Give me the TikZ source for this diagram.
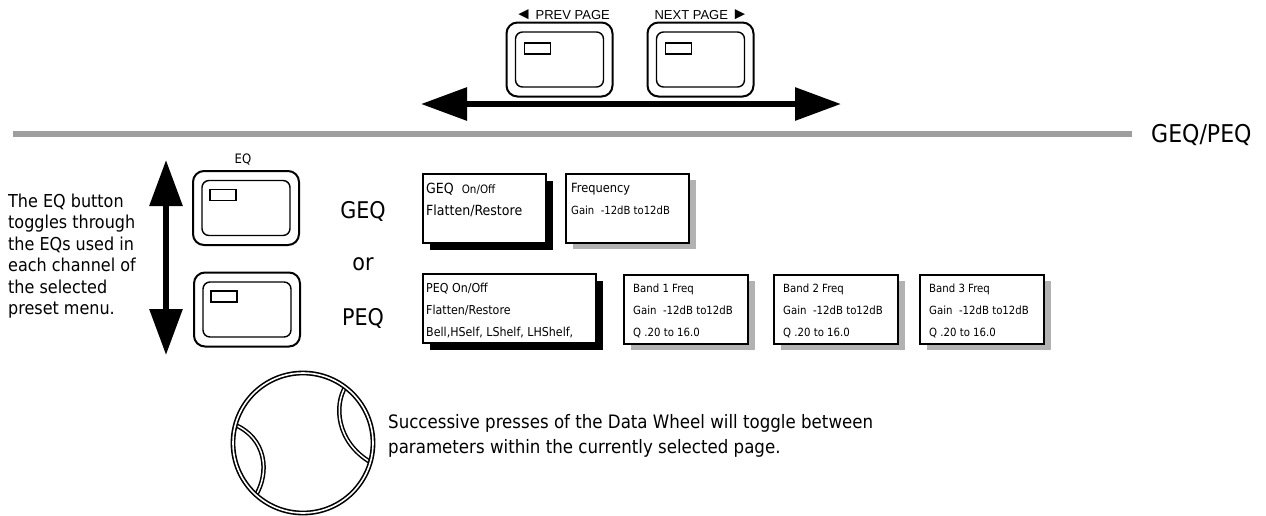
\documentclass[tikz,border=0pt]{standalone}
\usepackage{fontspec}
\setmainfont{DejaVu Sans Condensed}
\newfontfamily\labelfont{Liberation Sans}
\usetikzlibrary{positioning}
\usetikzlibrary{arrows.meta,shadows,backgrounds}
\newcommand\tri[1]{{\fontsize{17}{13}\selectfont #1}}

\begin{document}
\begin{tikzpicture}
    [
    x=1pt, y=-1pt,
    panel/.style={draw, line width=2pt, rounded corners=11pt, minimum width=106pt, minimum height=74pt, inner sep=0pt},
    panel inner/.style={draw, line width=1.4pt, rounded corners=7pt, minimum width=88pt, minimum height=55pt, inner sep=0pt},
    led/.style={draw, line width=1.2pt, minimum width=26pt, minimum height=11pt, inner sep=0pt},
    menu/.style={draw, line width=2pt, fill=white, anchor=north west, inner sep=0pt},
    dark shadow/.style={drop shadow={shadow xshift=7pt, shadow yshift=-7pt, fill=black, opacity=1}},
    light shadow/.style={drop shadow={shadow xshift=7pt, shadow yshift=-6pt, fill=black!30, opacity=1}},
    menu text/.style={anchor=north west, align=left, inner sep=0pt},
    big arrow/.style={line width=6pt, {Triangle[length=46pt, width=32pt]}-{Triangle[length=46pt, width=32pt]}},
    grip/.style={draw, line width=1.5pt, double=white, double distance=1.5pt},
    ]

    \useasboundingbox (0,0) rectangle (1266,515);

    \node[panel] (btn_prev) at (559.5,59.5) {};
    \node[panel inner] (btn_prev_in) at (btn_prev) {};
    \node[led] (btn_prev_led) at ([shift={(-22,-11)}]btn_prev) {};
    \node[font=\labelfont\fontsize{13}{13}\selectfont, above=-2pt of btn_prev, xshift=3pt] (lbl_prev) {\tri{◄} PREV PAGE};

    \node[panel] (btn_next) at (700.5,59.5) {};
    \node[panel inner] (btn_next_in) at (btn_next) {};
    \node[led] (btn_next_led) at ([shift={(-22,-11)}]btn_next) {};
    \node[font=\labelfont\fontsize{13}{13}\selectfont, above=-2pt of btn_next, xshift=1pt] (lbl_next) {NEXT PAGE \tri{►}};

    \coordinate (page_left) at (421,104);
    \coordinate (page_right) at (841,104);
    \draw[big arrow] (page_left) -- (page_right);

    \coordinate (rule_start) at (13,134);
    \coordinate (rule_end) at (1132,134);
    \draw[line width=6.5pt, black!38] (rule_start) -- (rule_end);
    \node[font=\fontsize{24.5}{24}\selectfont, anchor=west, inner sep=0pt] (lbl_mode) at (1151,135) {GEQ/PEQ};

    \node[panel] (btn_eq) at (246,208) {};
    \node[panel inner] (btn_eq_in) at (btn_eq) {};
    \node[led] (btn_eq_led) at ([shift={(-23,-13)}]btn_eq) {};
    \node[font=\fontsize{13}{13}\selectfont, above=1pt of btn_eq, xshift=-3pt] (lbl_eq) {EQ};

    \node[panel] (btn_eq_low) at (247,309.5) {};
    \node[panel inner] (btn_eq_low_in) at (btn_eq_low) {};
    \node[led] (btn_eq_low_led) at ([shift={(-23,-13)}]btn_eq_low) {};

    \coordinate (eq_top) at (166,160);
    \coordinate (eq_bottom) at (166,355);
    \draw[big arrow] (eq_top) -- (eq_bottom);

    \node[font=\fontsize{17.8}{21.4}\selectfont, align=left, anchor=west, inner sep=0pt] (txt_eq) at (8,256)
    {The EQ button\\toggles through\\the EQs used in\\each channel of\\the selected\\preset menu.};

    \node[font=\fontsize{23}{23}\selectfont] (lbl_geq) at (363,211) {GEQ};
    \node[font=\fontsize{23}{23}\selectfont] (lbl_or) at (363,264) {or};
    \node[font=\fontsize{23}{23}\selectfont] (lbl_peq) at (363,318) {PEQ};

    \node[menu, dark shadow, minimum width=123pt, minimum height=69pt] (box_geq) at (422,173) {};
    \node[menu text, font=\fontsize{14}{22}\selectfont] (box_geq_txt) at ([shift={(4,10)}]box_geq.north west)
    {GEQ\ \ {\fontsize{11.5}{22}\selectfont On/Off}\\Flatten/Restore};

    \node[menu, light shadow, minimum width=123pt, minimum height=69pt] (box_freq) at (565,173) {};
    \node[menu text, font=\fontsize{12.7}{22}\selectfont] (box_freq_txt) at ([shift={(6,10)}]box_freq.north west)
    {Frequency\\{\fontsize{11.2}{22}\selectfont Gain\ \ -12dB to12dB}};

    \node[menu, dark shadow, minimum width=173pt, minimum height=69pt] (box_peq) at (422,273) {};
    \node[menu text, font=\fontsize{12.3}{22}\selectfont] (box_peq_txt) at ([shift={(4,10)}]box_peq.north west)
    {PEQ On/Off\\Flatten/Restore\\Bell,HSelf, LShelf, LHShelf,};

    \node[menu, light shadow, minimum width=124pt, minimum height=69pt] (box_band1) at (623,273.5) {};
    \node[menu text, font=\fontsize{11.3}{22}\selectfont] (box_band1_txt) at ([shift={(10,10.5)}]box_band1.north west)
    {Band 1 Freq\\Gain\ \ -12dB to12dB\\Q .20 to 16.0};

    \node[menu, light shadow, minimum width=124pt, minimum height=69pt] (box_band2) at (773,273.5) {};
    \node[menu text, font=\fontsize{11.3}{22}\selectfont] (box_band2_txt) at ([shift={(10,10.5)}]box_band2.north west)
    {Band 2 Freq\\Gain\ \ -12dB to12dB\\Q .20 to 16.0};

    \node[menu, light shadow, minimum width=124pt, minimum height=69pt] (box_band3) at (919,273.5) {};
    \node[menu text, font=\fontsize{11.3}{22}\selectfont] (box_band3_txt) at ([shift={(10,10.5)}]box_band3.north west)
    {Band 3 Freq\\Gain\ \ -12dB to12dB\\Q .20 to 16.0};

    \node[circle, minimum size=140pt, inner sep=0pt, draw, line width=1.6pt, double=white, double distance=1.6pt] (wheel) at (303,443) {};
    \begin{scope}[on background layer]
        \draw[grip] (wheel.165) .. controls (266,438) and (270,472) .. (wheel.228);
        \draw[grip] (wheel.53) .. controls (334,405) and (336,442) .. (wheel.344);
    \end{scope}

    \node[font=\fontsize{18.5}{25.5}\selectfont, align=left, anchor=west, inner sep=0pt] (txt_wheel) at (388,436)
    {Successive presses of the Data Wheel will toggle between\\parameters within the currently selected page.};
\end{tikzpicture}
\end{document}
